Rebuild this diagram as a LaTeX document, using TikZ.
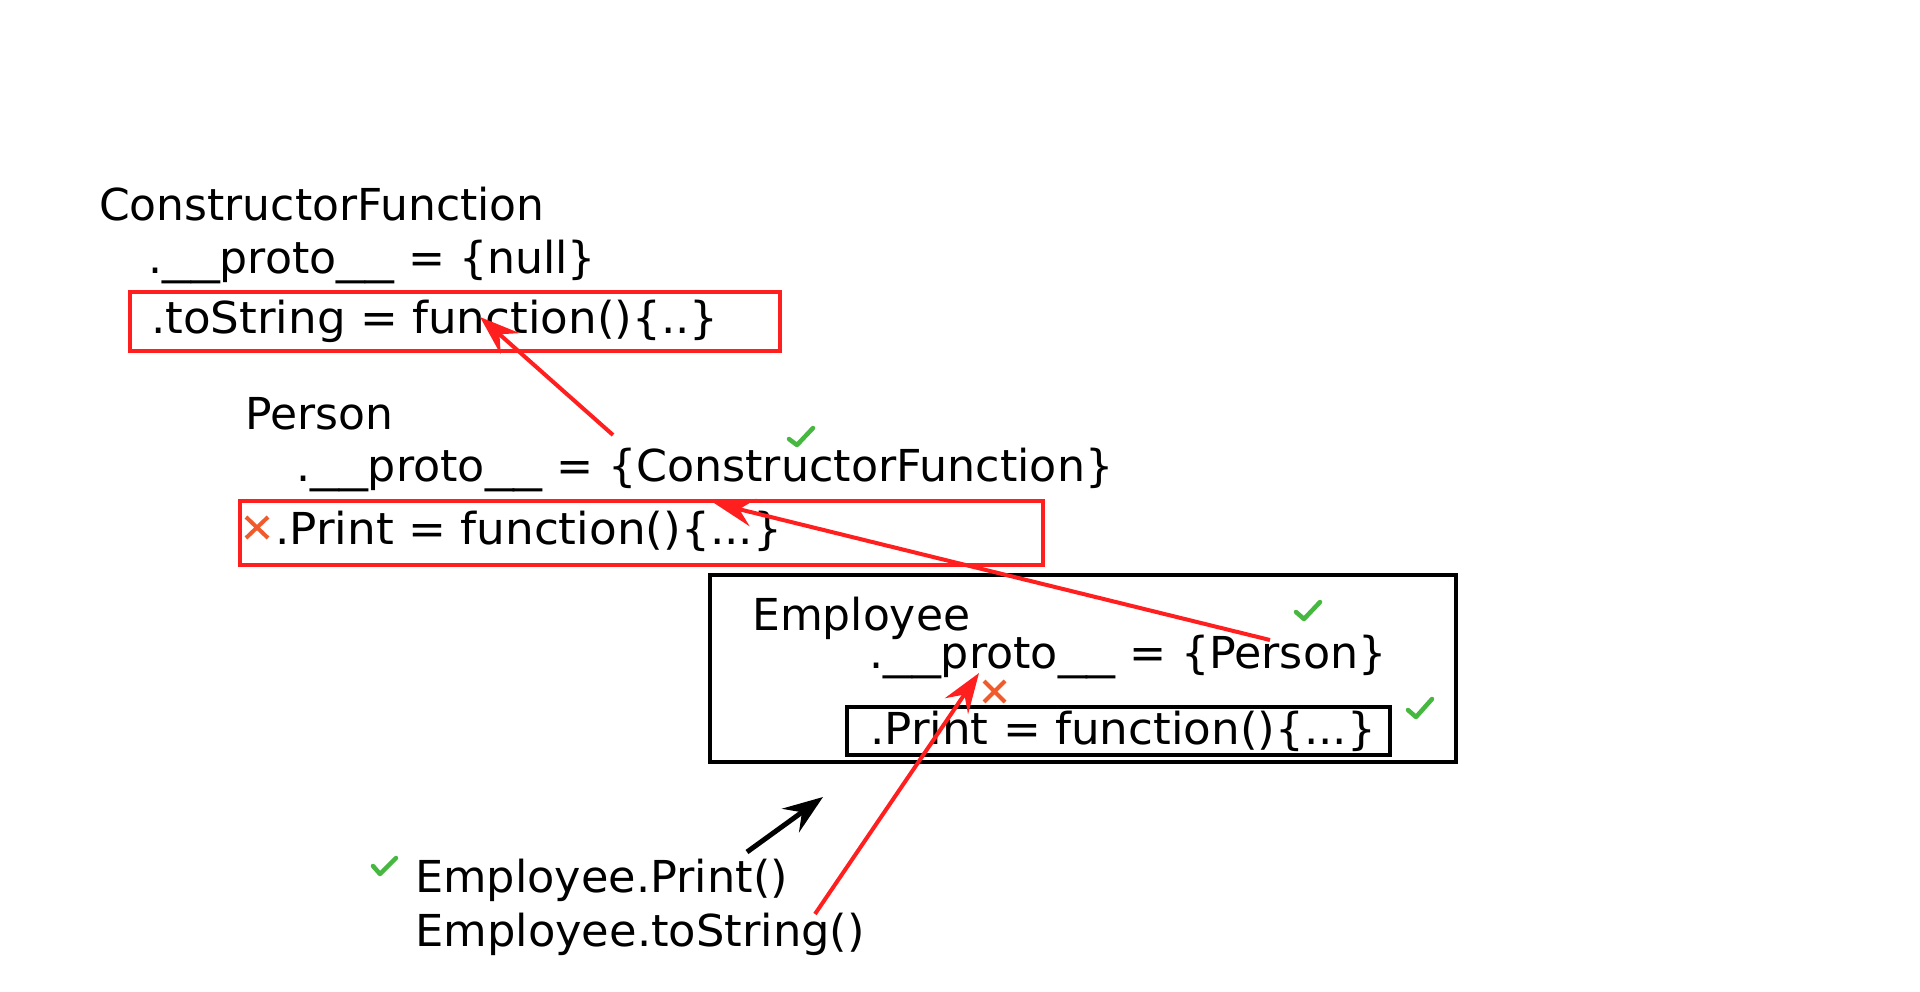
\documentclass[tikz,border=0pt]{standalone}
\usepackage{fontspec}
\setmainfont{DejaVu Sans}
\usetikzlibrary{arrows.meta}
\definecolor{boxred}{HTML}{FF1F1F}
\definecolor{xorange}{HTML}{F15A2B}
\definecolor{okgreen}{HTML}{46B840}
\newcommand\uu{\scalebox{1.3}[1]{\_\_}}
\newcommand\sx[2]{\scalebox{#1}[1]{#2}}
\tikzset{
  txt/.style={anchor=base west, inner sep=0pt, font=\fontsize{44}{53}\selectfont},
  redbox/.style={draw=boxred, line width=4pt, rectangle, inner sep=0pt},
  blackbox/.style={draw=black, line width=4.5pt, rectangle, inner sep=0pt},
  redarrow/.style={draw=boxred, line width=4pt, -{Stealth[length=40pt,width=28pt,inset=14pt]}},
  blackarrow/.style={draw=black, line width=5pt, -{Stealth[length=40pt,width=29pt,inset=14pt]}},
  checkmark/.style={draw=okgreen, line width=4.5pt, line cap=round, line join=round},
  crossmark/.style={draw=xorange, line width=4pt},
}
\begin{document}
\begin{tikzpicture}[x=1pt,y=-1pt]
\useasboundingbox (0,0) rectangle (1920,991);

% boxes
\node[redbox, minimum width=650pt, minimum height=59pt] (tsbox) at (455,321.5) {};
\node[redbox, minimum width=803pt, minimum height=64pt] (pbox) at (641.5,533) {};
\node[blackbox, minimum width=746pt, minimum height=187pt] (ebox) at (1083,668.5) {};
\node[blackbox, minimum width=543pt, minimum height=48pt] (epbox) at (1118.5,731) {};

% texts
\node[txt] (cf) at (99,220) {ConstructorFunction};
\node[txt] (cfproto) at (148,273) {\sx{1.005}{.\uu proto\uu{} = \{null\}}};
\node[txt] (cfts) at (151,333) {\sx{1.027}{.toString = function()\{..\}}};
\node[txt] (p) at (245,429) {Person};
\node[txt] (pproto) at (296,481) {\sx{1.008}{.\uu proto\uu{} = \{ConstructorFunction\}}};
\node[txt] (pprint) at (275,544) {\sx{1.03}{.Print = function()\{...\}}};
\node[txt] (e) at (752,630) {Employee};
\node[txt] (eproto) at (869,668) {\sx{1.008}{.\uu proto\uu{} = \{Person\}}};
\node[txt] (eprint) at (870,744) {\sx{1.028}{.Print = function()\{...\}}};
\node[txt] (call1) at (415,892) {\sx{1.014}{Employee.Print()}};
\node[txt] (call2) at (415,946) {\sx{1.018}{Employee.toString()}};

% arrow end points
\coordinate (a1s) at (613,435);
\coordinate (a1t) at (480,317);
\coordinate (a2s) at (1270,640);
\coordinate (a2t) at (714,503);
\coordinate (a3s) at (815,914);
\coordinate (a3t) at (979,673);
\coordinate (a4s) at (747,852);
\coordinate (a4t) at (823,797);

\draw[redarrow] (a1s) -- (a1t);
\draw[redarrow] (a2s) -- (a2t);
\draw[redarrow] (a3s) -- (a3t);
\draw[blackarrow] (a4s) -- (a4t);

% check marks
\draw[checkmark] (789,439) -- (797,445) -- (813,428);
\draw[checkmark] (1296,612) -- (1304,619) -- (1320,602);
\draw[checkmark] (1408,710) -- (1416,717) -- (1432,699);
\draw[checkmark] (373,866) -- (380,874) -- (396,858);

% cross marks
\draw[crossmark] (246,517) -- (268,538) (246,538) -- (268,517);
\draw[crossmark] (984,681) -- (1005,702) (984,702) -- (1005,681);
\end{tikzpicture}
\end{document}
